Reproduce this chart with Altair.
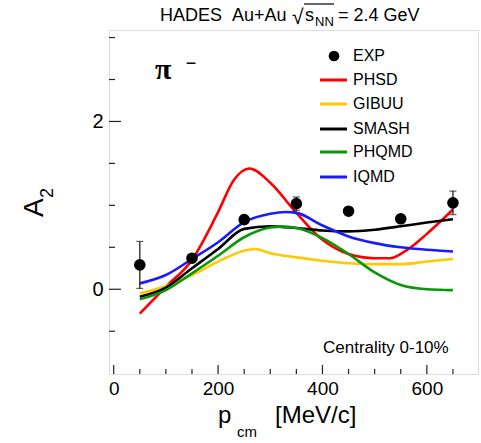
import altair as alt
import pandas as pd

# ---------------- data ----------------
exp_x = [50, 150, 250, 350, 450, 550, 650]
exp_y = [0.29, 0.37, 0.83, 1.02, 0.93, 0.84, 1.03]
exp_err = [0.28, 0.04, 0.04, 0.08, 0.04, 0.04, 0.14]

phsd_x = [50, 100, 150, 200, 230, 260, 300, 350, 400, 450, 500, 530, 560, 600, 650]
phsd_y = [-0.29, 0.03, 0.35, 0.92, 1.30, 1.44, 1.27, 0.91, 0.59, 0.42, 0.37, 0.37, 0.46, 0.66, 0.95]

gibuu_x = [50, 100, 150, 200, 250, 270, 300, 350, 400, 450, 500, 550, 600, 650]
gibuu_y = [-0.05, 0.04, 0.17, 0.33, 0.46, 0.48, 0.43, 0.38, 0.34, 0.31, 0.30, 0.30, 0.33, 0.36]

smash_x = [50, 100, 150, 200, 250, 300, 350, 400, 450, 500, 550, 600, 650]
smash_y = [-0.09, 0.02, 0.25, 0.48, 0.72, 0.75, 0.73, 0.70, 0.69, 0.71, 0.75, 0.795, 0.835]

phqmd_x = [50, 100, 150, 200, 250, 300, 320, 350, 400, 450, 500, 550, 600, 650]
phqmd_y = [-0.12, -0.01, 0.19, 0.40, 0.62, 0.735, 0.747, 0.73, 0.61, 0.42, 0.20, 0.05, 0.0, -0.01]

iqmd_x = [50, 100, 150, 200, 250, 300, 330, 350, 400, 450, 500, 550, 600, 650]
iqmd_y = [0.07, 0.17, 0.36, 0.56, 0.80, 0.90, 0.92, 0.91, 0.76, 0.63, 0.55, 0.50, 0.47, 0.45]

model_names = ["PHSD", "GIBUU", "SMASH", "PHQMD", "IQMD"]
model_colors = ["#ff0000", "#ffc800", "#000000", "#0a960a", "#1a1aff"]
model_x = [phsd_x, gibuu_x, smash_x, phqmd_x, iqmd_x]
model_y = [phsd_y, gibuu_y, smash_y, phqmd_y, iqmd_y]

x_major = [0, 200, 400, 600]
x_minor = [50, 100, 150, 250, 300, 350, 450, 500, 550, 650]
y_major = [0, 2]
y_minor = [-0.5, 0.5, 1.0, 1.5, 2.5, 3.0]

# ---------------- tables ----------------
rows = []
for n, xs_, ys_ in zip(model_names, model_x, model_y):
    for a, b in zip(xs_, ys_):
        rows.append({"model": n, "x": a, "y": b})
curves = pd.DataFrame(rows)
exp = pd.DataFrame({"x": exp_x, "y": exp_y,
                    "lo": [v - e for v, e in zip(exp_y, exp_err)],
                    "hi": [v + e for v, e in zip(exp_y, exp_err)]})

W, H = 369, 344
FONT = "Liberation Sans"
xsc = alt.Scale(domain=[-9, 698], nice=False, zero=False)
ysc = alt.Scale(domain=[-1.01, 3.09], nice=False, zero=False)
xax = alt.Axis(values=x_major, ticks=False, domain=False, grid=False, labelFontSize=19,
               labelPadding=5, labelFont=FONT, labelColor="black", title=None)
yax = alt.Axis(values=y_major, ticks=False, domain=False, grid=False, labelFontSize=20,
               labelPadding=6, labelFont=FONT, labelColor="black", title=None)

def X(f):
    return alt.X(f, scale=xsc, axis=xax)

def Y(f):
    return alt.Y(f, scale=ysc, axis=yax)

lines = alt.Chart(curves).mark_line(interpolate="monotone", strokeWidth=2.6).encode(
    x=X("x:Q"), y=Y("y:Q"),
    color=alt.Color("model:N", scale=alt.Scale(domain=model_names, range=model_colors), legend=None),
)

err = alt.Chart(exp).mark_rule(color="#222", strokeWidth=1.3).encode(
    x=X("x:Q"), y=Y("lo:Q"), y2="hi:Q")
cap_hi = alt.Chart(exp).mark_tick(color="#222", orient="horizontal", size=7, thickness=1.3).encode(
    x=X("x:Q"), y=Y("hi:Q"))
cap_lo = alt.Chart(exp).mark_tick(color="#222", orient="horizontal", size=7, thickness=1.3).encode(
    x=X("x:Q"), y=Y("lo:Q"))
pts = alt.Chart(exp).mark_circle(color="black", opacity=1, size=135).encode(
    x=X("x:Q"), y=Y("y:Q"))

# inward tick marks
def xticks(vals, ln):
    return alt.Chart(pd.DataFrame({"v": vals})).mark_rule(color="#222", strokeWidth=1.2).encode(
        x=X("v:Q"), y=alt.value(H), y2=alt.value(H - ln))

def yticks(vals, ln):
    return alt.Chart(pd.DataFrame({"v": vals})).mark_rule(color="#222", strokeWidth=1.2).encode(
        y=Y("v:Q"), x=alt.value(0), x2=alt.value(ln))

layers = [lines, err, cap_hi, cap_lo, pts,
          xticks(x_major, 9), xticks(x_minor, 5), yticks(y_major, 12), yticks(y_minor, 6)]

def txt(s, x, y, size, font=FONT, align="left", baseline="alphabetic", angle=0, weight="normal"):
    return alt.Chart(pd.DataFrame({"t": [s]})).mark_text(
        align=align, baseline=baseline, fontSize=size, font=font, angle=angle,
        fontWeight=weight, color="black").encode(text="t:N", x=alt.value(x), y=alt.value(y))

# legend
leg_rows = [26, 50, 74, 99, 122, 147]
layers.append(alt.Chart(pd.DataFrame({"t": ["EXP"]})).mark_circle(color="black", opacity=1, size=115)
              .encode(x=alt.value(225), y=alt.value(leg_rows[0])))
layers.append(txt("EXP", 244, leg_rows[0], 16, baseline="middle"))
for n, c, ry in zip(model_names, model_colors, leg_rows[1:]):
    layers.append(alt.Chart(pd.DataFrame({"t": [n]})).mark_rule(color=c, strokeWidth=3)
                  .encode(x=alt.value(211), x2=alt.value(238), y=alt.value(ry)))
    layers.append(txt(n, 244, ry, 16, baseline="middle"))

# annotations
layers.append(txt("π", 46, 49, 30, font="Liberation Serif", weight="bold"))
layers.append(txt("−", 82, 39, 18, align="center"))
layers.append(txt("Centrality 0-10%", 214, 323, 17))

# title
layers.append(txt("HADES", 51, -9, 18))
layers.append(txt("Au+Au", 123, -9, 18))
layers.append(txt("√", 183, -6, 21))
layers.append(txt("s", 196, -9, 18))
layers.append(txt("NN", 206, -4, 13))
layers.append(alt.Chart(pd.DataFrame({"t": ["bar"]})).mark_rule(color="black", strokeWidth=1.2)
              .encode(x=alt.value(195), x2=alt.value(225), y=alt.value(-26)))
layers.append(txt("= 2.4 GeV", 229, -9, 18))

# axis titles
layers.append(txt("p", 109, 393, 24))
layers.append(txt("cm", 128, 407, 15))
layers.append(txt("[MeV/c]", 166, 393, 24))
layers.append(txt("A", -66, 187, 28, angle=270))
layers.append(txt("2", -56, 168, 18, angle=270))

chart = alt.layer(*layers).properties(
    width=W, height=H,
    autosize=alt.AutoSizeParams(type="none"),
    padding={"left": 109, "top": 30, "right": 3, "bottom": 69},
).configure_view(stroke="#222", strokeWidth=1.5).configure(background="white")

chart.save("out.html", embed_options={"renderer": "svg", "actions": False})
